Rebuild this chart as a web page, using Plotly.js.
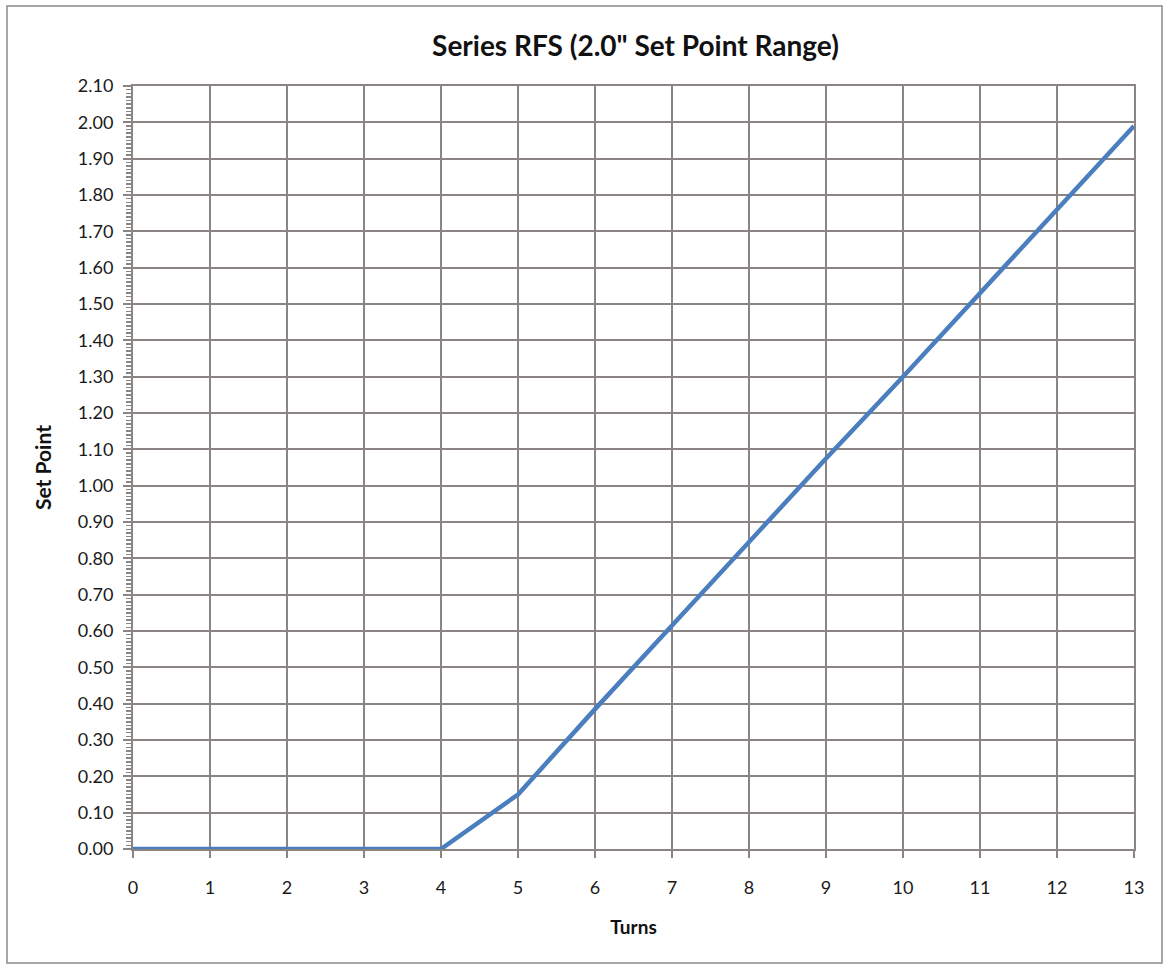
<!DOCTYPE html>
<html>
<head>
<meta charset="utf-8">
<script src="https://cdn.plot.ly/plotly-3.0.1.min.js"></script>
<style>html,body{margin:0;padding:0;background:#fff;}#chart{width:1166px;height:965px;}</style>
</head>
<body>
<div id="chart"></div>
<script>
const turns = [0, 1, 2, 3, 4, 5, 6, 7, 8, 9, 10, 11, 12, 13];
const setPoint = [0, 0, 0, 0, 0, 0.15, 0.385, 0.615, 0.845, 1.075, 1.30, 1.53, 1.76, 1.99];
const chartTitle = 'Series RFS (2.0" Set Point Range)';
const xTitle = 'Turns';
const yTitle = 'Set Point';

const gridColor = '#8a8483';
const fontFam = 'Lato, "Open Sans", sans-serif';

const trace = {
  x: turns, y: setPoint, type: 'scatter', mode: 'lines',
  line: {color: '#4a7ebf', width: 4.5}, cliponaxis: false, hoverinfo: 'skip'
};

const layout = {
  width: 1166, height: 965,
  margin: {l: 133, r: 32, t: 86, b: 116},
  paper_bgcolor: '#ffffff', plot_bgcolor: '#ffffff',
  showlegend: false,
  font: {family: fontFam, color: '#1a1a1a'},
  title: {text: '<b>' + chartTitle + '</b>', font: {size: 28, family: fontFam, color: '#111'}, x: 0.545, xanchor: 'center', y: 0.952, yanchor: 'middle'},
  xaxis: {
    range: [0, 13], dtick: 1, tick0: 0,
    showgrid: true, gridcolor: gridColor, gridwidth: 2,
    showline: true, linecolor: gridColor, linewidth: 2, mirror: true,
    ticks: 'outside', ticklen: 7, tickwidth: 2, tickcolor: gridColor,
    ticklabelstandoff: 14,
    tickfont: {size: 18, color: '#1a1a1a'},
    zeroline: false, fixedrange: true,
    title: {text: '<b>' + xTitle + '</b>', font: {size: 19, color: '#111'}, standoff: 24}
  },
  yaxis: {
    range: [0, 2.1], dtick: 0.1, tick0: 0, tickformat: '.2f',
    showgrid: true, gridcolor: gridColor, gridwidth: 2,
    showline: true, linecolor: gridColor, linewidth: 2, mirror: true,
    ticks: 'outside', ticklen: 8, tickwidth: 2, tickcolor: gridColor,
    ticklabelstandoff: 6,
    tickfont: {size: 18, color: '#1a1a1a'},
    minor: {dtick: 0.01, ticks: 'outside', ticklen: 5, tickwidth: 1.5, tickcolor: gridColor, showgrid: false},
    zeroline: false, fixedrange: true,
    title: {text: '<b>' + yTitle + '</b>', font: {size: 21, color: '#111'}, standoff: 20}
  },
  shapes: [{
    type: 'rect', xref: 'paper', yref: 'paper',
    x0: (7 - 133) / 1001, x1: (1162 - 133) / 1001,
    y0: (849 - 963) / 763, y1: (849 - 6) / 763,
    line: {color: '#8a8a8a', width: 1.5}, fillcolor: 'rgba(0,0,0,0)', layer: 'below'
  }]
};

Plotly.newPlot('chart', [trace], layout, {displayModeBar: false, staticPlot: true});
</script>
</body>
</html>
